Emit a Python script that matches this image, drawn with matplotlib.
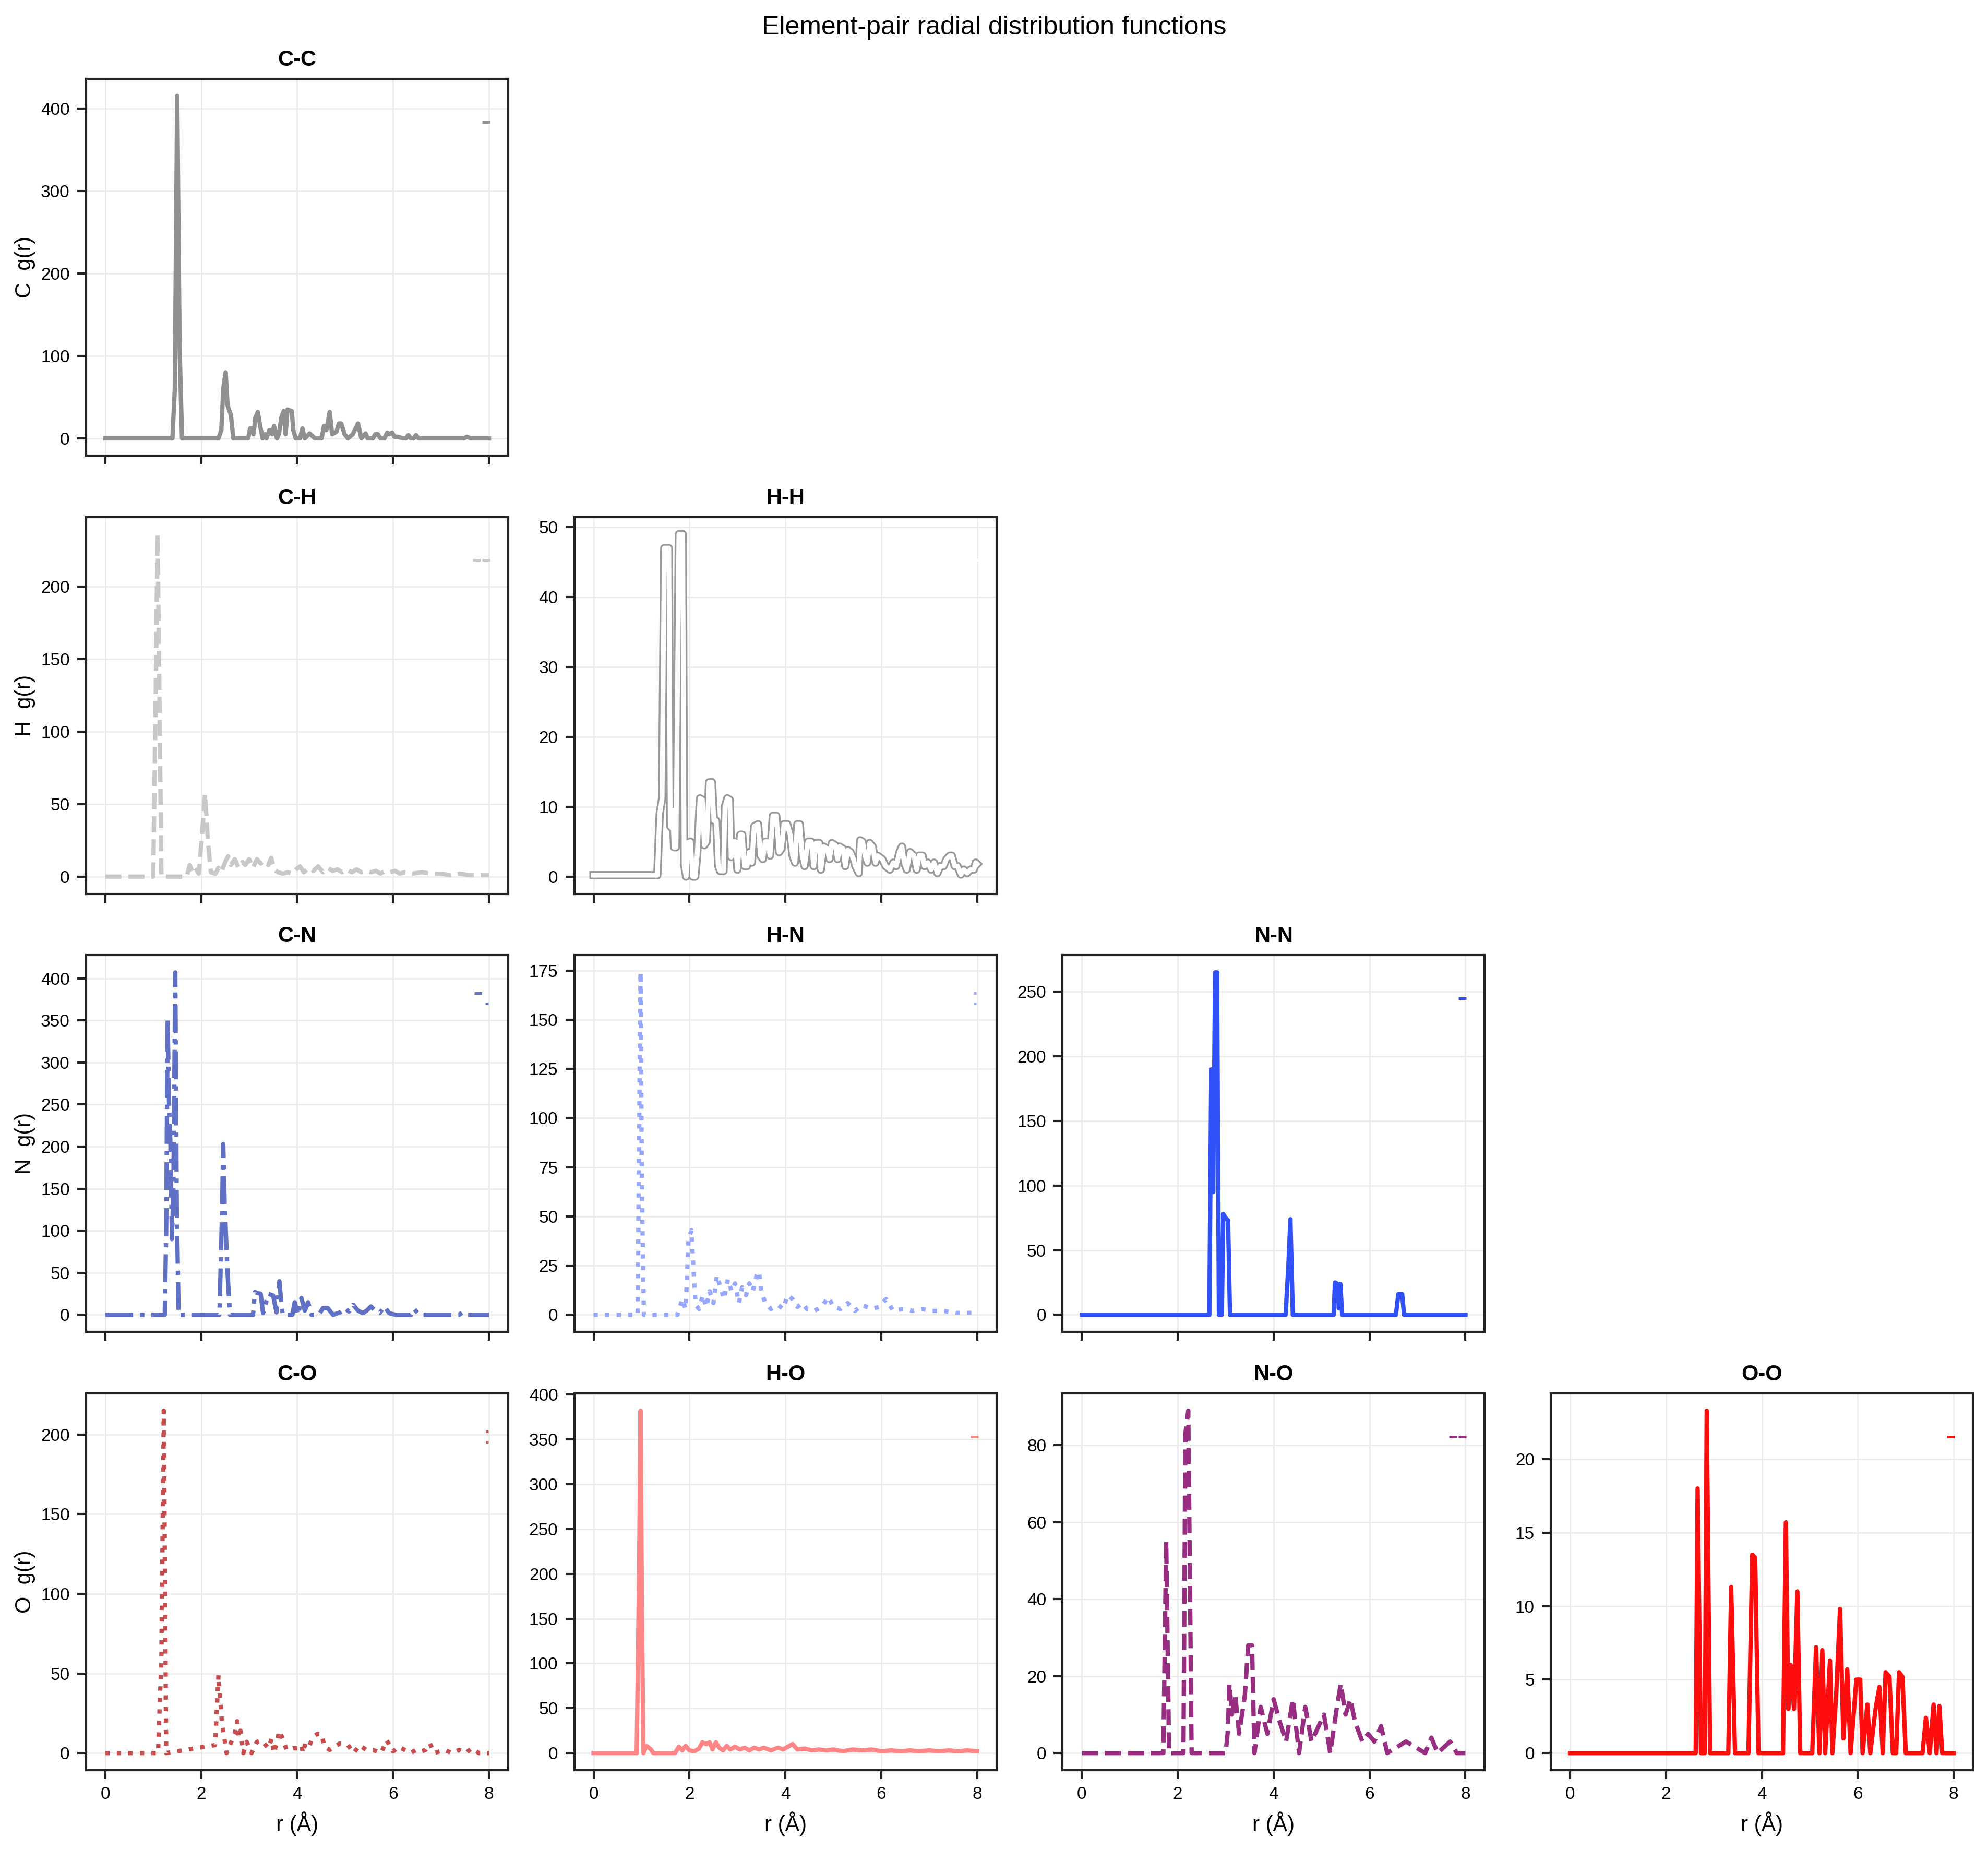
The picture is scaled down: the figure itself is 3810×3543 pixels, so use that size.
import numpy as np
import matplotlib
matplotlib.use("Agg")
import matplotlib.pyplot as plt
import matplotlib.patheffects as pe
from matplotlib.lines import Line2D

plt.rcParams['font.family'] = ['Liberation Sans', 'DejaVu Sans']

# ---------------- data (r in Angstrom, g(r)) ----------------
elements = ["C", "H", "N", "O"]

cc_pts = [(0, 0), (1.40, 0), (1.45, 60), (1.50, 415), (1.55, 110), (1.60, 0), (2.36, 0), (2.42, 10),
          (2.46, 60), (2.51, 80), (2.55, 40), (2.62, 28), (2.67, 0), (2.98, 0), (3.02, 12), (3.07, 12),
          (3.09, 5), (3.13, 25), (3.18, 32), (3.23, 15), (3.28, 0), (3.33, 5), (3.36, 0), (3.42, 10),
          (3.45, 10), (3.48, 5), (3.52, 15), (3.56, 5), (3.58, 0), (3.62, 5), (3.67, 25), (3.72, 33),
          (3.76, 5), (3.80, 35), (3.89, 33), (3.92, 10), (3.97, 0), (4.06, 0), (4.11, 12), (4.16, 0),
          (4.26, 6), (4.37, 0), (4.51, 0), (4.56, 15), (4.61, 10), (4.68, 32), (4.73, 5), (4.82, 8),
          (4.87, 18), (4.92, 18), (4.99, 5), (5.06, 0), (5.16, 5), (5.27, 18), (5.34, 0), (5.43, 6),
          (5.47, 0), (5.58, 0), (5.63, 5), (5.68, 5), (5.74, 0), (5.82, 0), (5.88, 7), (5.92, 5),
          (5.98, 7), (6.03, 2), (6.10, 2), (6.20, 0), (6.27, 0), (6.32, 4), (6.37, 0), (6.43, 0),
          (6.48, 4), (6.53, 0), (7.48, 0), (7.54, 2), (7.62, 0), (8.0, 0)]

ch_pts = [(0, 0), (1.00, 0), (1.05, 120), (1.09, 236), (1.13, 120), (1.17, 0), (1.70, 0), (1.76, 8),
          (1.82, 3), (1.88, 6), (1.95, 2), (2.02, 30), (2.08, 57), (2.14, 25), (2.20, 3), (2.30, 2),
          (2.36, 6), (2.42, 3), (2.50, 10), (2.56, 14), (2.62, 8), (2.70, 12), (2.78, 6), (2.86, 10),
          (2.92, 8), (3.00, 12), (3.08, 6), (3.16, 12), (3.24, 9), (3.32, 11), (3.40, 8), (3.46, 13),
          (3.52, 5), (3.60, 3), (3.70, 2), (3.80, 3), (3.90, 2), (3.98, 5), (4.06, 7), (4.14, 3),
          (4.24, 6), (4.34, 4), (4.44, 7), (4.54, 3), (4.64, 6), (4.74, 4), (4.84, 5), (4.94, 3),
          (5.04, 5), (5.14, 3), (5.24, 5), (5.34, 3), (5.44, 4), (5.54, 3), (5.64, 4), (5.74, 2),
          (5.84, 4), (5.94, 3), (6.04, 4), (6.14, 2), (6.24, 3), (6.40, 2), (6.60, 3), (6.80, 2),
          (7.00, 2), (7.20, 1), (7.40, 2), (7.60, 1), (7.80, 1), (8.00, 1)]

hh_pts = [(0, 0.2), (1.33, 0.2), (1.38, 9), (1.43, 11.2), (1.475, 47), (1.57, 47), (1.60, 7.2),
          (1.63, 7), (1.65, 9.5), (1.68, 4.2), (1.72, 4.2), (1.78, 49), (1.86, 49), (1.89, 1.7),
          (1.93, 0), (1.97, 4.9), (2.02, 5), (2.07, 0), (2.12, 0), (2.16, 3), (2.22, 11.2), (2.27, 11),
          (2.31, 4.5), (2.36, 5), (2.41, 13.5), (2.47, 13.5), (2.51, 8), (2.56, 8), (2.60, 1.5),
          (2.64, 0.8), (2.71, 0.8), (2.74, 10), (2.79, 11.2), (2.84, 11), (2.87, 2.8), (2.92, 5),
          (2.96, 5), (3.00, 1), (3.06, 6), (3.10, 6), (3.15, 1.5), (3.20, 1.5), (3.25, 3.5), (3.30, 2),
          (3.35, 7.2), (3.43, 7.5), (3.48, 3), (3.53, 2.5), (3.58, 5), (3.63, 5), (3.68, 3), (3.74, 8.7),
          (3.81, 8.7), (3.87, 3.5), (3.92, 4), (3.97, 7.5), (4.04, 7.5), (4.10, 6), (4.15, 3), (4.20, 2),
          (4.25, 7.5), (4.30, 7.5), (4.35, 3), (4.40, 1.5), (4.47, 5), (4.54, 5), (4.59, 1.5), (4.64, 4.8),
          (4.71, 4.8), (4.74, 1), (4.80, 4.3), (4.87, 4), (4.92, 2.5), (4.97, 4.8), (5.04, 4.5),
          (5.09, 2.5), (5.13, 4.3), (5.20, 4), (5.25, 1.5), (5.30, 3.8), (5.36, 3.5), (5.42, 2.5),
          (5.46, 1.5), (5.53, 0.5), (5.56, 5.2), (5.61, 5), (5.66, 3), (5.71, 2), (5.76, 4.8), (5.82, 4.3),
          (5.88, 2), (5.92, 3), (6.02, 2.5), (6.09, 1.5), (6.18, 1), (6.25, 2), (6.31, 1.5), (6.38, 3.5),
          (6.43, 4.3), (6.48, 2), (6.53, 1), (6.60, 3.5), (6.68, 3), (6.74, 1), (6.79, 3), (6.86, 3),
          (6.90, 1.5), (6.97, 2), (7.04, 1), (7.10, 2), (7.17, 0.5), (7.23, 1.5), (7.30, 1.5), (7.36, 2.5),
          (7.43, 3), (7.47, 3), (7.53, 1.5), (7.59, 1.5), (7.66, 0.3), (7.72, 1), (7.79, 0.5), (7.86, 1),
          (7.93, 1), (7.97, 2), (8.0, 1.8)]

cn_pts = [(0, 0), (1.24, 0), (1.27, 100), (1.30, 352), (1.33, 250), (1.36, 200), (1.39, 90), (1.42, 150),
          (1.46, 407), (1.49, 130), (1.53, 0), (2.38, 0), (2.43, 110), (2.46, 203), (2.49, 130), (2.55, 50),
          (2.60, 0), (3.08, 0), (3.12, 27), (3.24, 25), (3.29, 2), (3.40, 25), (3.50, 23), (3.57, 3),
          (3.63, 40), (3.67, 15), (3.70, 0), (3.90, 0), (3.95, 15), (4.02, 0), (4.09, 20), (4.16, 5),
          (4.23, 15), (4.30, 0), (4.45, 0), (4.54, 8), (4.64, 8), (4.75, 0), (4.90, 3), (5.00, 8),
          (5.08, 4), (5.17, 12), (5.27, 5), (5.37, 2), (5.45, 5), (5.54, 10), (5.64, 4), (5.72, 2),
          (5.82, 10), (5.92, 2), (6.06, 0), (6.38, 0), (6.44, 7), (6.55, 0), (7.38, 0), (7.45, 3),
          (7.55, 0), (8.0, 0)]

hn_pts = [(0, 0), (0.92, 0), (0.95, 90), (0.98, 174), (1.01, 60), (1.05, 0), (1.75, 0), (1.85, 8),
          (1.92, 3), (1.98, 38), (2.04, 43), (2.08, 25), (2.13, 5), (2.20, 3), (2.28, 10), (2.35, 4),
          (2.42, 12), (2.50, 6), (2.57, 20), (2.65, 14), (2.72, 8), (2.80, 18), (2.88, 12), (2.95, 16),
          (3.03, 6), (3.10, 14), (3.18, 10), (3.25, 16), (3.32, 12), (3.40, 20), (3.45, 22), (3.50, 12),
          (3.58, 6), (3.70, 3), (3.85, 5), (3.95, 3), (4.05, 10), (4.15, 8), (4.25, 4), (4.35, 6),
          (4.45, 3), (4.60, 2), (4.75, 4), (4.90, 9), (5.00, 4), (5.15, 3), (5.30, 6), (5.45, 2),
          (5.60, 5), (5.80, 3), (5.95, 4), (6.10, 8), (6.25, 2), (6.45, 3), (6.65, 2), (6.85, 3),
          (7.05, 2), (7.30, 2), (7.55, 1), (7.80, 1), (8.0, 1)]

nn_pts = [(0, 0), (2.66, 0), (2.70, 190), (2.74, 95), (2.78, 265), (2.82, 265), (2.86, 0), (2.92, 0),
          (2.95, 78), (3.00, 75), (3.05, 73), (3.09, 0), (4.25, 0), (4.31, 40), (4.35, 74), (4.40, 0),
          (5.25, 0), (5.28, 25), (5.33, 24), (5.36, 5), (5.39, 24), (5.43, 0), (6.55, 0), (6.60, 16),
          (6.68, 16), (6.72, 0), (8.0, 0)]

co_pts = [(0, 0), (1.10, 0), (1.17, 60), (1.22, 215), (1.27, 0), (2.29, 5), (2.36, 49), (2.43, 20),
          (2.53, 0), (2.64, 8), (2.70, 12), (2.75, 20), (2.78, 10), (2.82, 14), (2.88, 0), (2.95, 7),
          (3.05, 0), (3.16, 7), (3.26, 8), (3.40, 3), (3.47, 9), (3.52, 0), (3.63, 14), (3.71, 8),
          (3.78, 2), (3.92, 3), (4.02, 3), (4.09, 5), (4.12, 0), (4.18, 7), (4.26, 5), (4.33, 10),
          (4.42, 12), (4.51, 12), (4.57, 4), (4.68, 2), (4.78, 4), (4.89, 6), (5.06, 5), (5.18, 0),
          (5.30, 5), (5.44, 2), (5.58, 2), (5.75, 0), (5.87, 8), (6.00, 1), (6.12, 4), (6.24, 2),
          (6.37, 0), (6.48, 2), (6.58, 1), (6.68, 2), (6.77, 6), (6.86, 0), (7.07, 2), (7.23, 0),
          (7.38, 2), (7.52, 0), (7.64, 3), (7.79, 0), (8.0, 0)]

ho_pts = [(0, 0), (0.90, 0), (0.95, 200), (0.98, 382), (1.01, 150), (1.04, 0), (1.10, 8), (1.18, 5),
          (1.25, 0), (1.70, 0), (1.78, 7), (1.85, 3), (1.92, 8), (2.00, 3), (2.10, 2), (2.20, 5),
          (2.27, 12), (2.35, 10), (2.42, 12), (2.48, 4), (2.55, 12), (2.62, 6), (2.70, 3), (2.78, 8),
          (2.85, 4), (2.95, 7), (3.05, 4), (3.15, 6), (3.25, 3), (3.35, 6), (3.45, 4), (3.55, 6),
          (3.70, 3), (3.85, 6), (3.95, 4), (4.05, 7), (4.15, 10), (4.25, 4), (4.40, 5), (4.55, 3),
          (4.70, 4), (4.85, 3), (5.00, 4), (5.20, 2), (5.40, 4), (5.60, 3), (5.80, 4), (6.00, 2),
          (6.20, 3), (6.40, 2), (6.60, 3), (6.80, 2), (7.00, 3), (7.20, 2), (7.40, 3), (7.60, 2),
          (7.80, 3), (8.00, 2)]

no_pts = [(0, 0), (1.70, 0), (1.76, 55), (1.82, 0), (2.12, 0), (2.16, 83), (2.22, 89), (2.29, 0),
          (3.00, 0), (3.04, 5), (3.08, 18), (3.13, 10), (3.20, 15), (3.28, 5), (3.40, 15), (3.47, 28),
          (3.55, 28), (3.60, 0), (3.73, 12), (3.87, 5), (4.00, 14), (4.13, 8), (4.26, 3), (4.40, 14),
          (4.53, 0), (4.66, 12), (4.79, 3), (5.05, 10), (5.18, 0), (5.32, 12), (5.40, 18), (5.50, 10),
          (5.60, 14), (5.70, 8), (5.85, 3), (5.97, 5), (6.10, 3), (6.24, 7), (6.37, 0), (6.76, 3),
          (7.16, 0), (7.29, 4), (7.42, 0), (7.68, 3), (7.82, 0), (8.0, 0)]

oo_pts = [(0, 0), (2.62, 0), (2.66, 18), (2.73, 0), (2.81, 0), (2.85, 23.3), (2.92, 0), (3.30, 0),
          (3.36, 11.3), (3.44, 0), (3.72, 0), (3.80, 13.5), (3.86, 13.3), (3.93, 0), (4.44, 0),
          (4.50, 15.7), (4.55, 3), (4.60, 6), (4.67, 3), (4.74, 11), (4.80, 0), (5.05, 0), (5.13, 7.2),
          (5.20, 0), (5.26, 7), (5.32, 0), (5.42, 6.3), (5.47, 0), (5.55, 4), (5.63, 9.8), (5.70, 1),
          (5.78, 5.7), (5.85, 0), (5.97, 5), (6.05, 5), (6.10, 0), (6.20, 3.3), (6.26, 0), (6.37, 3),
          (6.45, 4.5), (6.52, 0), (6.58, 5.5), (6.66, 5.2), (6.73, 0), (6.80, 0), (6.86, 5.5),
          (6.93, 5.2), (7.00, 0), (7.35, 0), (7.42, 2.4), (7.50, 0), (7.58, 3.3), (7.64, 0), (7.70, 3.2),
          (7.76, 0), (8.0, 0)]

pair_data = {
    ("C", "C"): cc_pts, ("C", "H"): ch_pts, ("H", "H"): hh_pts,
    ("C", "N"): cn_pts, ("H", "N"): hn_pts, ("N", "N"): nn_pts,
    ("C", "O"): co_pts, ("H", "O"): ho_pts, ("N", "O"): no_pts, ("O", "O"): oo_pts,
}

# ---------------- styles ----------------
pair_color = {
    ("C", "C"): "#909090", ("C", "H"): "#C8C8C8", ("H", "H"): "#FFFFFF",
    ("C", "N"): "#6070C4", ("H", "N"): "#97A7FB", ("N", "N"): "#3050F8",
    ("C", "O"): "#C74E4E", ("H", "O"): "#FF8686", ("N", "O"): "#972E82", ("O", "O"): "#FF0D0D",
}
pair_ls = {
    ("C", "C"): "-", ("C", "H"): "--", ("H", "H"): "-",
    ("C", "N"): "-.", ("H", "N"): ":", ("N", "N"): "-",
    ("C", "O"): ":", ("H", "O"): "-", ("N", "O"): "--", ("O", "O"): "-",
}
# small key marks (gap before dash, dash pattern) in pixels, one tuple per legend row
pair_key = {
    ("C", "C"): [(18, [15, 500])], ("C", "H"): [(0, [15, 3])], ("H", "H"): [(18, [15, 500])],
    ("C", "N"): [(3, [14, 500]), (24, [6, 500])], ("H", "N"): [(24, [5, 500]), (24, [5, 500])],
    ("N", "N"): [(18, [15, 500])],
    ("C", "O"): [(25, [5, 500]), (25, [5, 500])], ("H", "O"): [(18, [15, 500])],
    ("N", "O"): [(0, [15, 3])], ("O", "O"): [(18, [15, 500])],
}

DPI = 300
PT_PER_PX = 72.0 / DPI
W_PX, H_PX = 3810, 3543
SPINE = "#222222"


def add_key(ax, color, rows):
    fs = 4.0
    fs_px = fs / PT_PER_PX
    lw = 1.2
    handles = []
    for gap, pat in rows:
        period = sum(pat)
        off = (period - gap) if gap > 0 else 0
        seq = [p * PT_PER_PX / lw for p in pat]
        ln = Line2D([], [], color=color, lw=lw, dash_capstyle="butt", solid_capstyle="butt",
                    linestyle=(off * PT_PER_PX / lw, seq))
        handles.append(ln)
    ax.legend(handles, [""] * len(handles), loc="center right",
              bbox_to_anchor=(1 - 35 / 809, 1 - 84 / 722), bbox_transform=ax.transAxes,
              frameon=False, fontsize=fs, handlelength=33 / fs_px, handletextpad=0,
              borderpad=0, borderaxespad=0, labelspacing=0.32)


fig, axes = plt.subplots(4, 4, sharex=True, figsize=(W_PX / DPI, H_PX / DPI), dpi=DPI)
fig.subplots_adjust(left=165 / W_PX, right=3781 / W_PX, bottom=1 - 3392 / H_PX, top=1 - 151 / H_PX,
                    wspace=127 / 809, hspace=118 / 722)

for i, ei in enumerate(elements):
    for j, ej in enumerate(elements):
        ax = axes[i, j]
        if j > i:
            ax.set_visible(False)
            continue
        key = (ej, ei)
        pts = np.array(pair_data[key], dtype=float)
        r, g = pts[:, 0], pts[:, 1]
        color = pair_color[key]
        if key == ("H", "H"):
            ax.plot(r, g, color=color, lw=2.2, ls="-",
                    path_effects=[pe.Stroke(linewidth=3.8, foreground="#999999"), pe.Normal()])
        else:
            ax.plot(r, g, color=color, lw=2.0, ls=pair_ls[key])
        ax.set_title(f"{ej}-{ei}", fontsize=10, fontweight="bold")
        ax.grid(True, color="#ebebeb", lw=0.6)
        ax.set_axisbelow(True)
        for s in ax.spines.values():
            s.set_color(SPINE)
            s.set_linewidth(1.0)
        ax.tick_params(direction="out", length=4, width=1.0, color=SPINE, labelsize=8,
                       labelcolor="black", top=False, right=False)
        if j == 0:
            ax.set_ylabel(f"{ei}  g(r)", fontsize=10, labelpad=2.5)
        if i == 3:
            ax.set_xlabel("r (Å)", fontsize=10)
        add_key(ax, color, pair_key[key])

axes[3, 0].set_xticks([0, 2, 4, 6, 8])
fig.suptitle("Element-pair radial distribution functions", fontsize=12, y=1 - 30 / H_PX, va="top")

fig.savefig("out.png", dpi=DPI)
